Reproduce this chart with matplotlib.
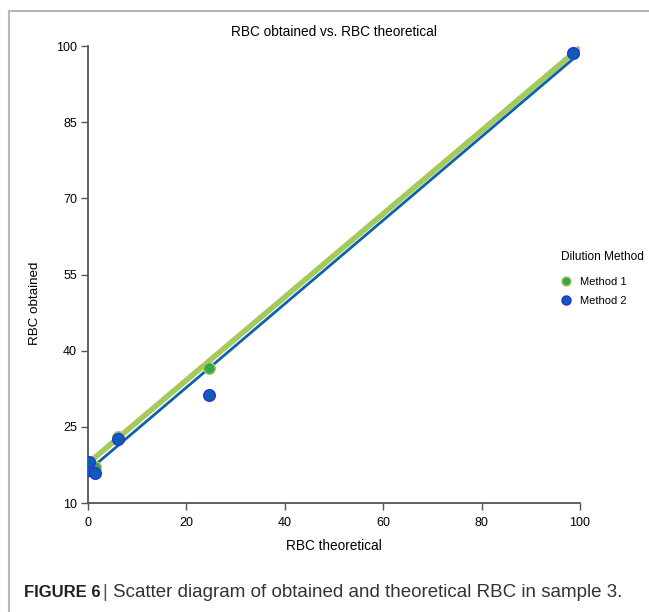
import matplotlib.pyplot as plt
from matplotlib.lines import Line2D

plt.rcParams['font.family'] = ['Liberation Sans', 'DejaVu Sans']

# RBC theoretical vs obtained, sample 3
m1_x = [0.0, 0.3, 1.4, 6.0, 24.6, 98.6]
m1_y = [17.8, 18.0, 17.0, 23.0, 36.5, 98.6]
m2_x = [0.0, 0.3, 1.4, 6.0, 24.6, 98.6]
m2_y = [16.5, 18.0, 16.0, 22.6, 31.3, 98.6]

# fitted lines (endpoints)
fit1_x = [-0.5, 100.0]
fit1_y = [17.4, 99.7]
fit2_x = [0.0, 100.0]
fit2_y = [16.3, 98.6]

x_ticks = [0, 20, 40, 60, 80, 100]
y_ticks = [10, 25, 40, 55, 70, 85, 100]

fig = plt.figure(figsize=(6.49, 6.12), dpi=100)
ax = fig.add_axes([0.1356, 0.1781, 0.758, 0.7467])

ax.plot(fit1_x, fit1_y, color='#a6c95e', lw=4.0, solid_capstyle='butt', zorder=2)
ax.plot(fit2_x, fit2_y, color='#0b62ad', lw=2.0, solid_capstyle='butt', zorder=3)

ax.scatter(m1_x, m1_y, s=70, color='#35a84a', edgecolor='#a6c95e', linewidth=1.0, zorder=4)
ax.scatter(m2_x, m2_y, s=70, color='#0b5fae', edgecolor='#2a2ee8', linewidth=1.0, zorder=5)

ax.set_xlim(0, 100)
ax.set_ylim(10, 100)
ax.set_xticks(x_ticks)
ax.set_yticks(y_ticks)
ax.tick_params(labelsize=9, length=5, width=1, color='#555555', pad=3)
ax.tick_params(axis='x', pad=5)
for side in ['top', 'right']:
    ax.spines[side].set_visible(False)
for side in ['left', 'bottom']:
    ax.spines[side].set_color('#555555')
    ax.spines[side].set_linewidth(1.3)

ax.set_title('RBC obtained vs. RBC theoretical', fontsize=9.8, pad=7)
ax.set_xlabel('RBC theoretical', fontsize=9.8, labelpad=7)
ax.set_ylabel('RBC obtained', fontsize=9.6)
ax.yaxis.set_label_coords(-0.095, 0.4376)

handles = [
    Line2D([0], [0], marker='o', ls='none', markersize=6.5, markerfacecolor='#35a84a',
           markeredgecolor='#a6c95e', label='Method 1'),
    Line2D([0], [0], marker='o', ls='none', markersize=6.5, markerfacecolor='#0b5fae',
           markeredgecolor='#2a2ee8', label='Method 2'),
]
leg = fig.legend(handles=handles, title='Dilution Method', loc='upper left',
                 bbox_to_anchor=(0.852, 0.602), frameon=False, fontsize=8,
                 title_fontsize=8.6, handlelength=1.0, handletextpad=0.75,
                 labelspacing=0.75, borderpad=0.2)
leg._legend_box.align = 'left'
leg._legend_box.sep = 10

# outer frame
fig.add_artist(Line2D([0.0139, 1.0], [0.982, 0.982], color='#b8b8b8', lw=1.5,
                      transform=fig.transFigure))
fig.add_artist(Line2D([0.0139, 0.0139], [0.982, 0.0], color='#b8b8b8', lw=1.5,
                      transform=fig.transFigure))

fig.text(0.037, 0.024, 'FIGURE 6', fontsize=12, fontweight='bold', color='#222222')
fig.text(0.158, 0.024, '|', fontsize=13.5, color='#555555')
fig.text(0.174, 0.024, 'Scatter diagram of obtained and theoretical RBC in sample 3.',
         fontsize=13.5, color='#333333')

fig.savefig('out.png', dpi=100)
